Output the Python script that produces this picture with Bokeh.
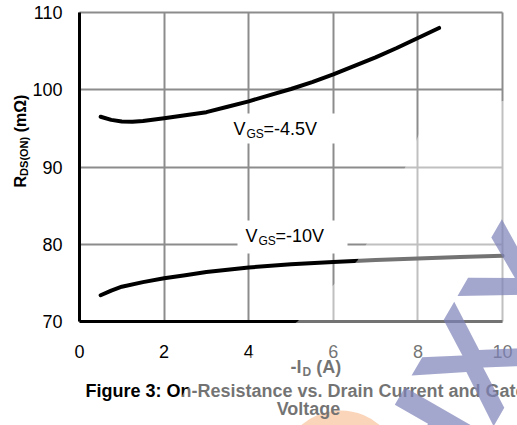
from bokeh.plotting import figure
from bokeh.models import Range1d, FixedTicker, Label, Grid, PolyAnnotation
from bokeh.embed import file_html
from bokeh.resources import INLINE

# ---- data ----
x_vgs45 = [0.5, 0.75, 1.0, 1.25, 1.5, 2.0, 2.5, 3.0, 3.5, 4.0, 4.5, 5.0, 5.5, 6.0, 6.5, 7.0, 7.5, 8.0, 8.5]
r_vgs45 = [96.5, 96.1, 95.9, 95.85, 95.95, 96.3, 96.7, 97.1, 97.8, 98.5, 99.3, 100.1, 101.0, 102.0, 103.1, 104.2, 105.4, 106.7, 108.0]

x_vgs10 = [0.5, 0.75, 1.0, 1.5, 2.0, 2.5, 3.0, 4.0, 5.0, 6.0, 7.0, 8.0, 9.0, 10.0]
r_vgs10 = [73.4, 74.0, 74.5, 75.1, 75.6, 76.0, 76.4, 77.0, 77.4, 77.7, 77.95, 78.15, 78.35, 78.5]

x_ticks = [0, 2, 4, 6, 8, 10]
y_ticks = [70, 80, 90, 100, 110]

# ---- layout (pixels) ----
W, H = 517, 425
L, R, T, B = 79, 502, 12, 321          # plot area inside the canvas
X0, X1, Y0, Y1 = 0, 10, 70, 110
sx = (X1 - X0) / (R - L)
sy = (Y1 - Y0) / (B - T)

def dx(px):
    return X0 + (px - L) * sx

def dy(py):
    return Y0 + (B - py) * sy

FONT = "Liberation Sans"
GRID = "#8c8c8c"
NB = "\u00a0"
DESC = 0.212   # descent of the font, in em

p = figure(width=W, height=H, output_backend="svg", toolbar_location=None,
           x_range=Range1d(dx(0), dx(W)), y_range=Range1d(dy(H), dy(0)),
           min_border=0)
p.background_fill_color = "white"
p.border_fill_color = "white"
p.outline_line_color = None

# axes placed at the data edges of the plot area
p.xaxis.fixed_location = Y0
p.yaxis.fixed_location = X0
p.xaxis.bounds = (X0, X1)
p.yaxis.bounds = (Y0, Y1)
p.xaxis.ticker = FixedTicker(ticks=x_ticks)
p.yaxis.ticker = FixedTicker(ticks=y_ticks)

p.xgrid.ticker = FixedTicker(ticks=x_ticks)
p.ygrid.ticker = FixedTicker(ticks=y_ticks)
p.xgrid.bounds = (X0, X1)
p.ygrid.bounds = (Y0, Y1)
p.grid.grid_line_color = GRID
p.grid.grid_line_width = 2

has_cross = "cross_bounds" in Grid.properties()
if has_cross:
    p.xgrid.cross_bounds = (Y0, Y1)
    p.ygrid.cross_bounds = (X0, X1)

for ax in (p.xaxis, p.yaxis):
    ax.axis_line_color = "black"
    ax.axis_line_width = 3
    ax.major_tick_line_color = None
    ax.minor_tick_line_color = None
    ax.major_tick_out = 0
    ax.major_tick_in = 0
    ax.minor_tick_out = 0
    ax.minor_tick_in = 0
    ax.major_label_text_font = FONT
    ax.major_label_text_font_size = "18px"
    ax.major_label_text_color = "black"
p.xaxis.major_label_standoff = 23
p.yaxis.major_label_standoff = 17

if not has_cross:
    # hide grid lines outside the plot area
    e = 1.2
    p.quad(left=[dx(0), dx(R + e), dx(0), dx(0)],
           right=[dx(L - e), dx(W), dx(W), dx(W)],
           top=[dy(0), dy(0), dy(0), dy(B + e)],
           bottom=[dy(H), dy(H), dy(T - e), dy(H)],
           fill_color="white", line_color=None)

# white label backgrounds (cover the grid)
p.quad(left=[dx(225), dx(237)], right=[dx(340), dx(347)],
       top=[dy(113), dy(220)], bottom=[dy(143), dy(253)],
       fill_color="white", line_color=None)

# watermark circle (orange)
p.scatter([dx(340)], [dy(470)], size=120, marker="circle",
          fill_color="#f5a46c", line_color=None, fill_alpha=0.85)

# curves
p.line(x_vgs45, r_vgs45, line_color="black", line_width=4, line_join="round", line_cap="round")
p.line(x_vgs10, r_vgs10, line_color="black", line_width=4, line_join="round", line_cap="round")

def add(text, px, base, size, xoff=0, bold=False, align="left", angle=0, color="black", alpha=1.0):
    """px: left/centre x of the text, base: pixel row of its baseline."""
    d = DESC * size
    if angle == 90:
        ax_, ay_ = px + d, base      # rotated: baseline is a column, text starts at 'base'
    else:
        ax_, ay_ = px, base + d
    p.add_layout(Label(x=dx(ax_), y=dy(ay_), text=text, x_offset=xoff, text_font=FONT,
                       text_font_size=f"{size}px", text_font_style="bold" if bold else "normal",
                       text_align=align, text_baseline="bottom",
                       angle=angle, angle_units="deg",
                       text_color=color, text_alpha=alpha))

# curve labels
for (lx, ly, rest) in [(233, 135, "=-4.5V"), (245, 242, "=-10V")]:
    add("V", lx, ly, 18)
    add("GS", lx, ly + 2.5, 12, xoff=13)
    add(rest, lx, ly, 18, xoff=30)

# y axis title (rotated, reads bottom to top)
add("R", 25, 187, 16, bold=True, angle=90)
add("DS(ON)", 27, 175.4, 11, bold=True, angle=90)
add(NB + "(mΩ)", 25, 136.3, 16, bold=True, angle=90)

# x axis title
add("-I", 290, 373, 18, bold=True)
add("D", 290, 376, 12, bold=True, xoff=12)
add(NB + "(A)", 290, 373, 18, bold=True, xoff=20.7)

# caption
add("Figure 3: On-Resistance vs. Drain Current and Gate", 305, 397, 18, bold=True, align="center")
add("Voltage", 308, 415, 18, bold=True, align="center")

# watermark: translucent white wash + blue letters
wash_px = [(517, 98), (427, 113), (395, 190), (357, 260), (297, 321), (250, 355), (185, 389), (165, 425), (517, 425)]
p.add_layout(PolyAnnotation(xs=[dx(a) for a, b in wash_px], ys=[dy(b) for a, b in wash_px],
                            fill_color="white", fill_alpha=0.45, line_color=None))
p.add_layout(Label(x=dx(400), y=dy(490), text="HXY", text_font=FONT, text_font_size="140px",
                   text_font_style="bold", text_baseline="alphabetic", angle=60, angle_units="deg",
                   text_color="#7e82b8", text_alpha=0.7))

open("out.html", "w").write(file_html(p, INLINE))
